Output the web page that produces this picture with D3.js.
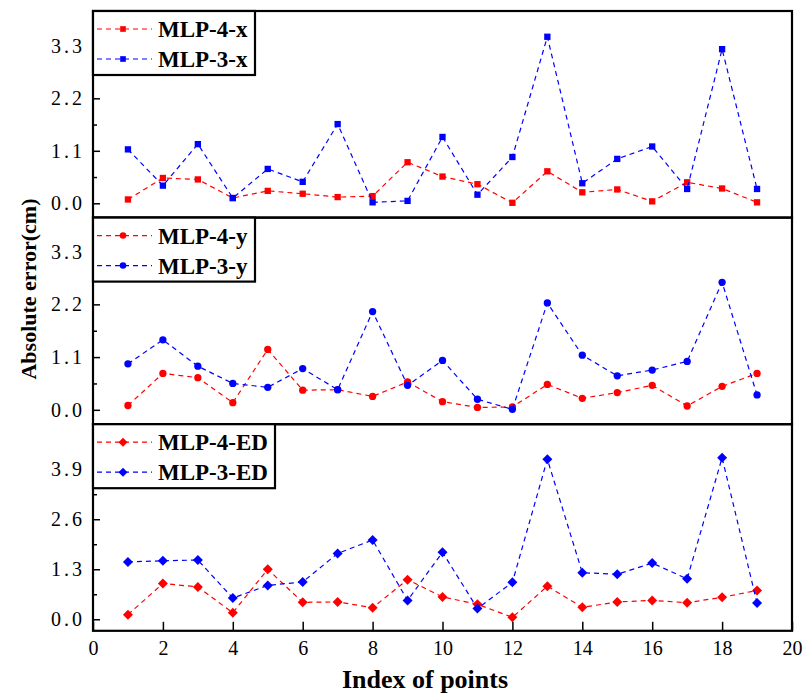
<!DOCTYPE html>
<html>
<head>
<meta charset="utf-8">
<script src="https://cdn.jsdelivr.net/npm/d3@7"></script>
<style>
  body { margin: 0; background: #fff; }
  text { font-family: "Liberation Serif", "Times New Roman", serif; }
</style>
</head>
<body>
<div id="chart"></div>
<script>
// point index (x)
const idx = [1, 2, 3, 4, 5, 6, 7, 8, 9, 10, 11, 12, 13, 14, 15, 16, 17, 18, 19];

// absolute errors (cm)
const mlp4x = [0.08, 0.53, 0.50, 0.11, 0.26, 0.20, 0.13, 0.15, 0.86, 0.56, 0.40, 0.01, 0.67, 0.23, 0.29, 0.04, 0.44, 0.31, 0.02];
const mlp3x = [1.13, 0.37, 1.24, 0.11, 0.72, 0.45, 1.66, 0.02, 0.05, 1.39, 0.18, 0.97, 3.49, 0.42, 0.93, 1.19, 0.30, 3.23, 0.30];
const mlp4y = [0.09, 0.76, 0.67, 0.15, 1.26, 0.41, 0.42, 0.28, 0.58, 0.17, 0.05, 0.06, 0.53, 0.24, 0.36, 0.51, 0.08, 0.49, 0.76];
const mlp3y = [0.96, 1.46, 0.91, 0.55, 0.47, 0.86, 0.42, 2.05, 0.51, 1.03, 0.22, 0.01, 2.23, 1.14, 0.71, 0.83, 1.01, 2.66, 0.31];
const mlp4ed = [0.12, 0.93, 0.84, 0.17, 1.30, 0.44, 0.45, 0.30, 1.03, 0.58, 0.39, 0.05, 0.86, 0.31, 0.45, 0.49, 0.43, 0.57, 0.75];
const mlp3ed = [1.49, 1.52, 1.54, 0.55, 0.88, 0.97, 1.71, 2.06, 0.49, 1.74, 0.28, 0.96, 4.16, 1.21, 1.17, 1.46, 1.05, 4.20, 0.42];

// axis ticks
const xTicks = [0, 2, 4, 6, 8, 10, 12, 14, 16, 18, 20];
const yTicksXY = [0, 1.1, 2.2, 3.3];
const yMinorXY = [0.55, 1.65, 2.75, 3.85];
const yTicksED = [0, 1.3, 2.6, 3.9];
const yMinorED = [0.65, 1.95, 3.25, 4.55];

const RED = '#ff0000', BLUE = '#0000ff';

// square rotated 45deg, used as diamond marker
const squat = { draw(ctx, size) { const r = Math.sqrt(size / 2); ctx.moveTo(0, -r); ctx.lineTo(r, 0); ctx.lineTo(0, r); ctx.lineTo(-r, 0); ctx.closePath(); } };

const panels = [
  { domain: [-0.3, 4.03], ticks: yTicksXY, minor: yMinorXY, symbol: d3.symbolSquare, size: 40,
    series: [{ name: 'MLP-4-x', values: mlp4x, color: RED }, { name: 'MLP-3-x', values: mlp3x, color: BLUE }],
    legendW: 162 },
  { domain: [-0.3, 4.01], ticks: yTicksXY, minor: yMinorXY, symbol: d3.symbolCircle, size: 42,
    series: [{ name: 'MLP-4-y', values: mlp4y, color: RED }, { name: 'MLP-3-y', values: mlp3y, color: BLUE }],
    legendW: 162 },
  { domain: [-0.3, 5.07], ticks: yTicksED, minor: yMinorED, symbol: squat, size: 50,
    series: [{ name: 'MLP-4-ED', values: mlp4ed, color: RED }, { name: 'MLP-3-ED', values: mlp3ed, color: BLUE }],
    legendW: 182 },
];

const width = 803, height = 695;
const marginLeft = 93, plotRight = 792, plotTop = 11, panelH = 206.6;

const svg = d3.select('#chart').append('svg')
  .attr('width', width)
  .attr('height', height);

const xScale = d3.scaleLinear([0, 20], [marginLeft, plotRight]);

panels.forEach((p, i) => {
  const y0 = plotTop + i * panelH;
  const y1 = y0 + panelH;
  const yScale = d3.scaleLinear(p.domain, [y1, y0]);
  const g = svg.append('g');

  // minor y ticks
  g.append('g')
    .attr('transform', `translate(${marginLeft},0)`)
    .call(d3.axisLeft(yScale).tickValues(p.minor.filter(v => v < p.domain[1])).tickSize(-4).tickFormat(''))
    .call(a => a.select('.domain').remove())
    .call(a => a.selectAll('line').attr('stroke-width', 1.5));

  // major y ticks
  g.append('g')
    .attr('transform', `translate(${marginLeft},0)`)
    .call(d3.axisLeft(yScale).tickValues(p.ticks).tickSize(-7).tickPadding(8).tickFormat(d3.format('.1f')))
    .call(a => a.select('.domain').remove())
    .call(a => a.selectAll('line').attr('stroke-width', 1.5))
    .call(a => a.selectAll('text')
      .attr('font-size', 20)
      .attr('letter-spacing', 3)
      .attr('font-family', '"Liberation Serif", serif')
      .attr('fill', '#000'));

  // x ticks only on the bottom panel
  if (i === panels.length - 1) {
    svg.append('g')
      .attr('transform', `translate(0,${y1})`)
      .call(d3.axisBottom(xScale).tickValues(xTicks).tickSize(-9).tickPadding(10).tickFormat(d3.format('d')))
      .call(a => a.select('.domain').remove())
      .call(a => a.selectAll('line').attr('stroke-width', 1.5))
      .call(a => a.selectAll('text')
        .attr('font-size', 20)
        .attr('font-family', '"Liberation Serif", serif')
        .attr('fill', '#000'));
  }

  // series
  const line = d3.line()
    .x((d, j) => xScale(idx[j]))
    .y(d => yScale(d));
  const sym = d3.symbol().type(p.symbol).size(p.size);

  p.series.forEach(s => {
    g.append('path')
      .datum(s.values)
      .attr('fill', 'none')
      .attr('stroke', s.color)
      .attr('stroke-width', 1.2)
      .attr('stroke-dasharray', '5,4')
      .attr('d', line);
    g.append('g')
      .selectAll('path')
      .data(s.values)
      .join('path')
      .attr('transform', (d, j) => `translate(${xScale(idx[j])},${yScale(d)})`)
      .attr('d', sym)
      .attr('fill', s.color);
  });

  // panel frame
  g.append('rect')
    .attr('x', marginLeft).attr('y', y0)
    .attr('width', plotRight - marginLeft).attr('height', panelH)
    .attr('fill', 'none').attr('stroke', '#000').attr('stroke-width', 2.2);

  // legend
  const lg = g.append('g').attr('transform', `translate(${marginLeft},${y0})`);
  lg.append('rect')
    .attr('width', p.legendW).attr('height', 64)
    .attr('fill', '#fff').attr('stroke', '#000').attr('stroke-width', 2.2);
  p.series.forEach((s, k) => {
    const ly = 18 + k * 30;
    lg.append('line')
      .attr('x1', 4).attr('x2', 59).attr('y1', ly).attr('y2', ly)
      .attr('stroke', s.color).attr('stroke-width', 1.2).attr('stroke-dasharray', '5,4');
    lg.append('path')
      .attr('transform', `translate(30,${ly})`)
      .attr('d', d3.symbol().type(p.symbol).size(p.size * 0.8))
      .attr('fill', s.color);
    lg.append('text')
      .attr('x', 65).attr('y', ly + 8)
      .attr('font-size', 23).attr('font-weight', 'bold')
      .attr('fill', '#000')
      .text(s.name);
  });
});

// axis titles
svg.append('text')
  .attr('transform', `translate(36,289) rotate(-90)`)
  .attr('text-anchor', 'middle')
  .attr('font-size', 22).attr('font-weight', 'bold')
  .text('Absolute error(cm)');

svg.append('text')
  .attr('x', 425).attr('y', 688)
  .attr('text-anchor', 'middle')
  .attr('font-size', 26).attr('font-weight', 'bold')
  .text('Index of points');
</script>
</body>
</html>
